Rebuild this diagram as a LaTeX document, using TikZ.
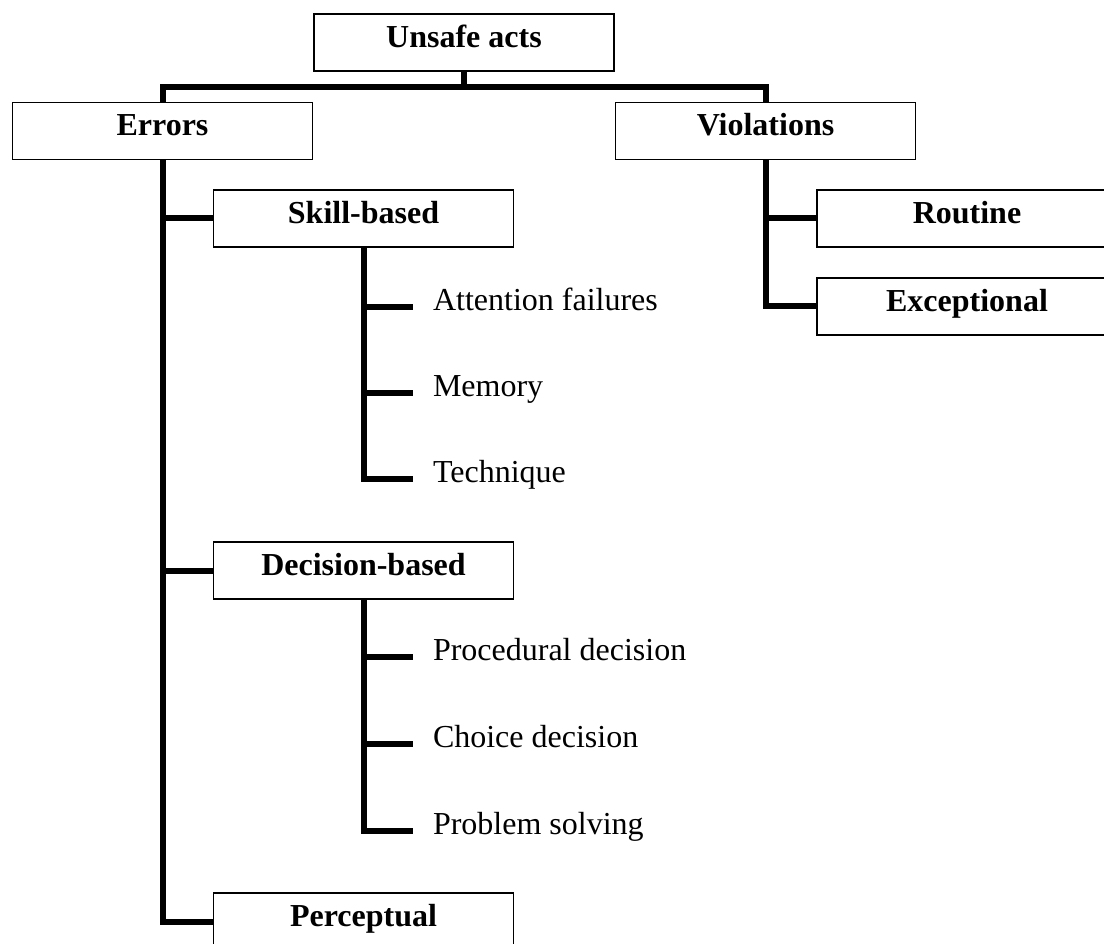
\documentclass[tikz,border=0pt]{standalone}
\usepackage{fontspec}
\setmainfont{Liberation Serif}
\begin{document}
\begin{tikzpicture}[x=1pt,y=-1pt,
  catbox/.style={draw=black, line width=1.8pt, minimum width=300pt,
    minimum height=57pt, inner sep=0pt,
    font=\fontsize{32}{38}\selectfont\bfseries,
    text height=20pt, text depth=10pt},
  leaf/.style={anchor=west, inner xsep=0pt, outer xsep=20pt, inner ysep=0pt,
    font=\fontsize{32}{38}\selectfont, text height=16pt, text depth=9pt},
  link/.style={line width=6pt, line join=miter}]

  % page frame
  \useasboundingbox (0,0) rectangle (1104,944);
  \fill[white] (0,0) rectangle (1104,944);
  \clip (0,0) rectangle (1104,944);

  % category boxes
  \node[catbox] (unsafe)      at (464,42.5)   {Unsafe acts};
  \node[catbox] (errors)      at (162.5,131)  {Errors};
  \node[catbox] (violations)  at (765.5,131)  {Violations};
  \node[catbox] (skill)       at (363.5,218.5) {Skill-based};
  \node[catbox] (routine)     at (967,218.5)  {Routine};
  \node[catbox] (exceptional) at (967,306.5)  {Exceptional};
  \node[catbox] (decision)    at (363.5,570.5) {Decision-based};
  \node[catbox] (perceptual)  at (363.5,921.5) {Perceptual};

  % leaf items
  \node[leaf] (attention)  at (413,307) {Attention failures};
  \node[leaf] (memory)     at (413,393) {Memory};
  \node[leaf] (technique)  at (413,479) {Technique};
  \node[leaf] (procedural) at (413,657) {Procedural decision};
  \node[leaf] (choice)     at (413,744) {Choice decision};
  \node[leaf] (problem)    at (413,831) {Problem solving};

  % top split
  \coordinate (bus) at (464,87);
  \draw[link] (unsafe.south) -- (bus);
  \draw[link] (errors.north) |- (bus) -| (violations.north);

  % errors branch
  \draw[link] (errors.south) |- (perceptual.west);
  \draw[link] (errors.south |- skill.west) -- (skill.west);
  \draw[link] (errors.south |- decision.west) -- (decision.west);

  % violations branch
  \draw[link] (violations.south) |- (exceptional.west);
  \draw[link] (violations.south |- routine.west) -- (routine.west);

  % skill-based items
  \draw[link] (skill.south) |- (technique.west);
  \draw[link] (skill.south |- attention.west) -- (attention.west);
  \draw[link] (skill.south |- memory.west) -- (memory.west);

  % decision-based items
  \draw[link] (decision.south) |- (problem.west);
  \draw[link] (decision.south |- procedural.west) -- (procedural.west);
  \draw[link] (decision.south |- choice.west) -- (choice.west);
\end{tikzpicture}
\end{document}
